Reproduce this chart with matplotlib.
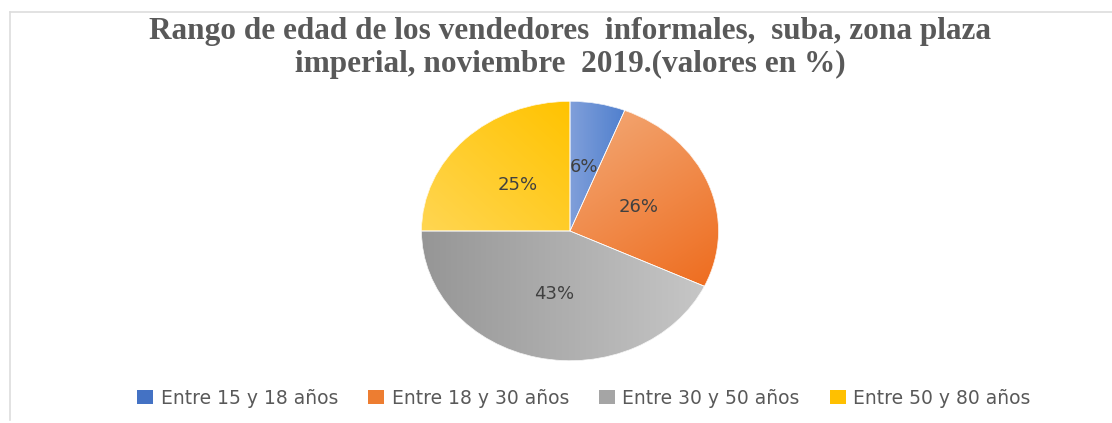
import numpy as np
import matplotlib
matplotlib.use("Agg")
import matplotlib.pyplot as plt
from matplotlib.colors import LinearSegmentedColormap
from matplotlib.patches import Patch, Wedge
from matplotlib.lines import Line2D

# data
categorias = ["Entre 15 y 18 años", "Entre 18 y 30 años", "Entre 30 y 50 años", "Entre 50 y 80 años"]
valores = [6, 26, 43, 25]
titulo = "Rango de edad de los vendedores  informales,  suba, zona plaza\nimperial, noviembre  2019.(valores en %)"

# base colour + gradient (light, dark, direction) per slice
colores = ["#4472C4", "#ED7D31", "#A5A5A5", "#FFC000"]
gradientes = [
    ("#809FDA", "#5080CE", (1.0, 0.0)),
    ("#F3AA78", "#EE6C1E", (0.6, -0.8)),
    ("#C6C6C6", "#969696", (-1.0, 0.0)),
    ("#FFD652", "#FFC300", (0.7, 0.7)),
]

W, H = 1112, 423
fig = plt.figure(figsize=(W / 100, H / 100), dpi=100)
fig.patch.set_facecolor("white")

# pie is slightly stretched horizontally in the original -> aspect auto
cx, cy, rx, ry = 570, 231, 150, 131
ax = fig.add_axes([(cx - rx) / W, 1 - (cy + ry) / H, 2 * rx / W, 2 * ry / H])

wedges, texts, autotexts = ax.pie(
    valores, startangle=90, counterclock=False, colors=colores,
    autopct="%1.0f%%", pctdistance=0.5, radius=1,
    wedgeprops=dict(linewidth=0),
    textprops=dict(color="#404040", fontsize=13, family="DejaVu Sans"),
)
ax.set_aspect("auto")
ax.axis("off")

# gradient fill clipped to each wedge
n = 200
for w, (light, dark, d) in zip(wedges, gradientes):
    ext = w.get_path().get_extents()
    xs = np.linspace(ext.x0, ext.x1, n)
    ys = np.linspace(ext.y0, ext.y1, n)
    X, Y = np.meshgrid(xs, ys)
    t = X * d[0] + Y * d[1]
    t = (t - t.min()) / (t.max() - t.min())
    cmap = LinearSegmentedColormap.from_list("g", [light, dark])
    im = ax.imshow(t, cmap=cmap, extent=[ext.x0, ext.x1, ext.y0, ext.y1],
                   origin="lower", aspect="auto", zorder=2, interpolation="bilinear")
    im.set_clip_path(w)

# thin white separators on top
for w in wedges:
    ax.add_patch(Wedge(w.center, w.r, w.theta1, w.theta2,
                       facecolor="none", edgecolor="white", linewidth=0.5, zorder=3))
for t in autotexts:
    t.set_zorder(5)
ax.set_xlim(-1.01, 1.01)
ax.set_ylim(-1.01, 1.01)

fig.text(cx / W, 1 - 48 / H, titulo, ha="center", va="center", fontsize=22.5,
         fontweight="bold", family="Liberation Serif", color="#595959", linespacing=1.15)

handles = [Patch(facecolor=c, edgecolor="none") for c in colores]
fig.legend(handles, categorias, loc="center", bbox_to_anchor=(584 / W, 1 - 398 / H),
           ncol=4, frameon=False, handlelength=0.85, handleheight=0.8,
           handletextpad=0.4, columnspacing=1.6,
           prop=dict(family="DejaVu Sans", size=13.5), labelcolor="#595959")

# faint chart-area border (top and left)
fig.add_artist(Line2D([10 / W, 1], [1 - 12 / H, 1 - 12 / H], color="#DDDDDD", lw=1.2))
fig.add_artist(Line2D([10 / W, 10 / W], [1 - 12 / H, 1 - 420 / H], color="#DDDDDD", lw=1.2))

fig.savefig("out.png", dpi=100, facecolor="white")
